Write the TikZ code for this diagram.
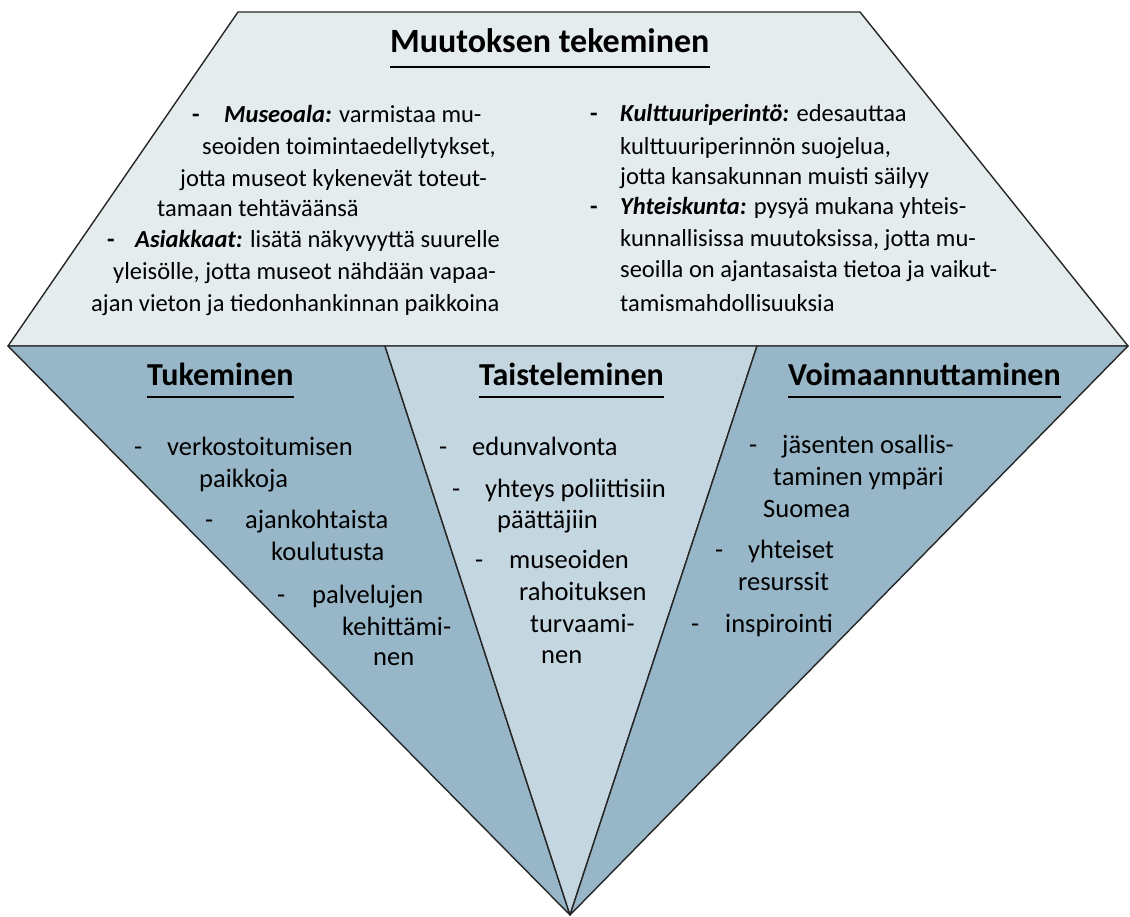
\documentclass[tikz,border=0pt]{standalone}
\usepackage{fontspec}
\setmainfont{Carlito}
\begin{document}
\begin{tikzpicture}[x=1pt,y=-1pt,
  edge/.style={draw=black!85, line width=1.4pt, line join=round},
  txt/.style={anchor=base west, inner sep=0pt, font=\fontsize{26.5}{32}\selectfont},
  ctxt/.style={anchor=base west, inner sep=0pt, font=\fontsize{24.5}{30}\selectfont},
  head/.style={anchor=base west, inner sep=0pt, font=\fontsize{32}{38}\selectfont\bfseries},
  title/.style={anchor=base west, inner sep=0pt, font=\fontsize{34}{40}\selectfont\bfseries},
  uline/.style={draw=black, line width=1.6pt}]
\definecolor{topfill}{HTML}{E4ECEE}
\definecolor{sidefill}{HTML}{97B6C7}
\definecolor{midfill}{HTML}{C4D6E0}
\useasboundingbox (0,0) rectangle (1130,917);

% corner points of the gem
\coordinate (tl) at (238,12);
\coordinate (tr) at (860,12);
\coordinate (gl) at (8,346);
\coordinate (gr) at (1128,346);
\coordinate (ml) at (385,346);
\coordinate (mr) at (757,346);
\coordinate (tip) at (570,915);

% facets
\filldraw[edge, fill=topfill] (tl) -- (tr) -- (gr) -- (gl) -- cycle;
\filldraw[edge, fill=sidefill] (gl) -- (ml) -- (tip) -- cycle;
\filldraw[edge, fill=midfill] (ml) -- (mr) -- (tip) -- cycle;
\filldraw[edge, fill=sidefill] (mr) -- (gr) -- (tip) -- cycle;

% crown: heading
\node[title] (h0) at (390,53) {Muutoksen tekeminen};
\draw[uline] ([yshift=-14pt]h0.base west) -- ([yshift=-14pt]h0.base east);

% crown: left column
\node[ctxt] (a0) at (192,123) {\textbf{-}};
\node[ctxt] (a1) at (224,123) {\textbf{\textit{Museoala:}} varmistaa mu-};
\node[ctxt] (a2) at (202,155) {seoiden toimintaedellytykset,};
\node[ctxt] (a3) at (180,187) {jotta museot kykenevät toteut-};
\node[ctxt] (a4) at (157,217) {tamaan tehtäväänsä};
\node[ctxt] (a5) at (107,248) {\textbf{-}};
\node[ctxt] (a6) at (135,248) {\textbf{\textit{Asiakkaat:}} lisätä näkyvyyttä suurelle};
\node[ctxt] (a7) at (113,280) {yleisölle, jotta museot nähdään vapaa-};
\node[ctxt] (a8) at (91,312) {ajan vieton ja tiedonhankinnan paikkoina};

% crown: right column
\node[ctxt] (b0) at (590,122) {\textbf{-}};
\node[ctxt] (b1) at (620,122) {\textbf{\textit{Kulttuuriperintö:}} edesauttaa};
\node[ctxt] (b2) at (620,155) {kulttuuriperinnön suojelua,};
\node[ctxt] (b3) at (620,185) {jotta kansakunnan muisti säilyy};
\node[ctxt] (b4) at (590,215) {\textbf{-}};
\node[ctxt] (b5) at (620,215) {\textbf{\textit{Yhteiskunta:}} pysyä mukana yhteis-};
\node[ctxt] (b6) at (620,247) {kunnallisissa muutoksissa, jotta mu-};
\node[ctxt] (b7) at (620,278) {seoilla on ajantasaista tietoa ja vaikut-};
\node[ctxt] (b8) at (620,312) {tamismahdollisuuksia};

% left facet
\node[head] (h1) at (147,385) {Tukeminen};
\draw[uline] ([yshift=-12pt]h1.base west) -- ([yshift=-12pt]h1.base east);
\node[txt] (c0) at (134,455) {-};
\node[txt] (c1) at (167,455) {verkostoitumisen};
\node[txt] (c2) at (199,487) {paikkoja};
\node[txt] (c3) at (205,528) {-};
\node[txt] (c4) at (245,528) {ajankohtaista};
\node[txt] (c5) at (271,560) {koulutusta};
\node[txt] (c6) at (277,603) {-};
\node[txt] (c7) at (312,603) {palvelujen};
\node[txt] (c8) at (342,635) {kehittämi-};
\node[txt] (c9) at (373,665) {nen};

% middle facet
\node[head] (h2) at (479,385) {Taisteleminen};
\draw[uline] ([yshift=-12pt]h2.base west) -- ([yshift=-12pt]h2.base east);
\node[txt] (d0) at (439,455) {-};
\node[txt] (d1) at (472,455) {edunvalvonta};
\node[txt] (d2) at (452,497) {-};
\node[txt] (d3) at (485,497) {yhteys poliittisiin};
\node[txt] (d4) at (497,528) {päättäjiin};
\node[txt] (d5) at (475,568) {-};
\node[txt] (d6) at (509,568) {museoiden};
\node[txt] (d7) at (519,600) {rahoituksen};
\node[txt] (d8) at (530,632) {turvaami-};
\node[txt] (d9) at (541,663) {nen};

% right facet
\node[head] (h3) at (788,385) {Voimaannuttaminen};
\draw[uline] ([yshift=-12pt]h3.base west) -- ([yshift=-12pt]h3.base east);
\node[txt] (e0) at (749,453) {-};
\node[txt] (e1) at (782,453) {jäsenten osallis-};
\node[txt] (e2) at (773,485) {taminen ympäri};
\node[txt] (e3) at (763,517) {Suomea};
\node[txt] (e4) at (715,558) {-};
\node[txt] (e5) at (748,558) {yhteiset};
\node[txt] (e6) at (738,590) {resurssit};
\node[txt] (e7) at (691,632) {-};
\node[txt] (e8) at (725,632) {inspirointi};
\end{tikzpicture}
\end{document}
